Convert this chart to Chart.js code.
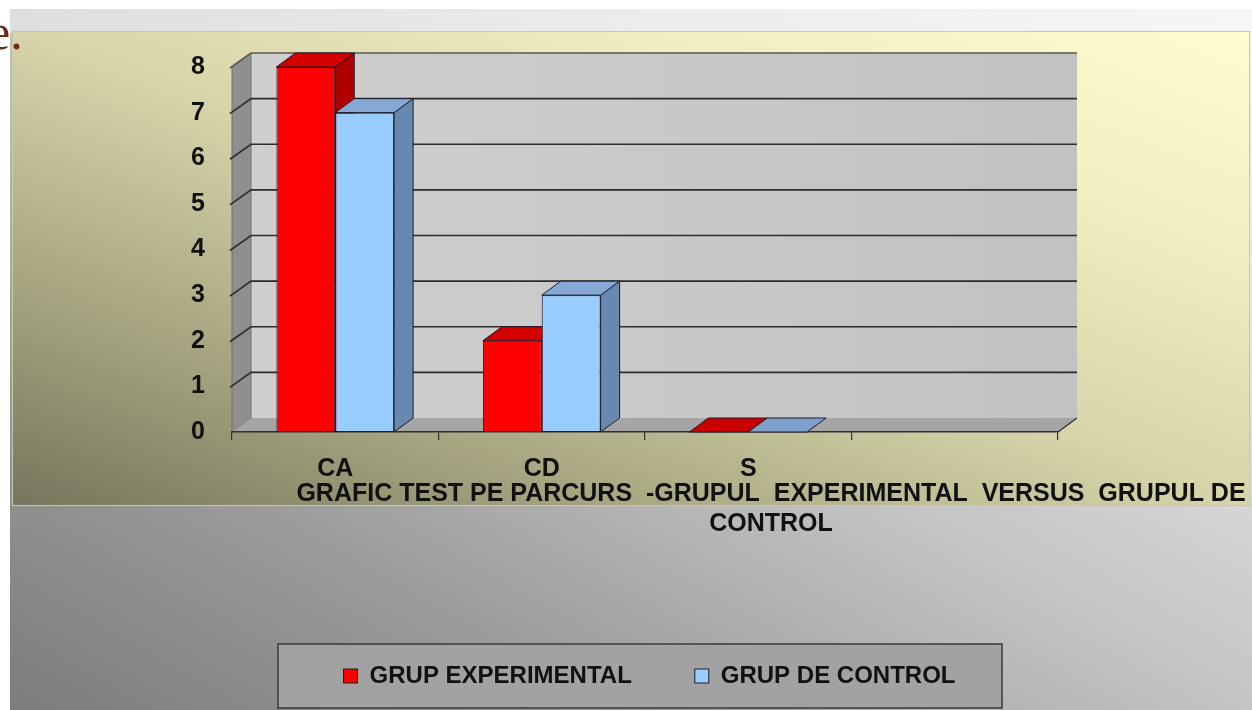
<!DOCTYPE html>
<html><head><meta charset="utf-8">
<script src="https://cdn.jsdelivr.net/npm/chart.js@4.4.1/dist/chart.umd.min.js"></script>
<style>
html,body{margin:0;padding:0;background:#fff;width:1252px;height:710px;overflow:hidden;}
#outer{position:absolute;left:10px;top:9px;width:1242px;height:701px;background:linear-gradient(to top right,#7c7c7c 0%,#9c9c9c 25%,#c4c4c4 50%,#e2e2e2 75%,#f6f6f6 100%);}
#strip{position:absolute;left:10px;top:9px;width:1242px;height:24px;background:linear-gradient(to right,#dedede 0%,#ececec 50%,#f6f6f6 100%);}
#inner{position:absolute;left:12px;top:31px;width:1236px;height:473px;border:1px solid #c9c8a8;background:linear-gradient(to top right,#76765c 0%,#a9a782 25%,#d6d4a8 50%,#f0eec0 75%,#fffcd0 100%);}
#frag{position:absolute;left:-12px;top:7px;font:50px/50px 'Liberation Serif','DejaVu Serif',serif;color:#6e2a18;}
canvas{position:absolute;left:0;top:0;}
</style></head>
<body>
<div id="outer"></div><div id="strip"></div><div id="inner"></div>
<div id="frag">e.</div>
<canvas id="c" width="1252" height="710"></canvas>
<script>
const categories = ['CA', 'CD', 'S', ''];
const grupExperimental = [8, 2, 0, null];
const grupControl = [7, 3, 0, null];
const seriesNames = ['GRUP EXPERIMENTAL', 'GRUP DE CONTROL'];
const yMin = 0, yMax = 8, yStep = 1;
const axisTitle = ['GRAFIC TEST PE PARCURS  -GRUPUL  EXPERIMENTAL  VERSUS  GRUPUL DE', 'CONTROL'];

const FONT = "'Liberation Sans',Arial,sans-serif";
const DEPTH = {dx: 19, dy: -14};
const faces = [
  {front: '#ff0000', top: '#d40000', side: '#b00000', flat: '#c80000'},
  {front: '#99ccff', top: '#86a8d4', side: '#6888b0', flat: '#7fa0cc'}
];
const EDGE = '#1c1c28';

function poly(ctx, pts, fill, stroke, lw) {
  ctx.beginPath();
  ctx.moveTo(pts[0][0], pts[0][1]);
  for (let i = 1; i < pts.length; i++) ctx.lineTo(pts[i][0], pts[i][1]);
  ctx.closePath();
  if (fill) { ctx.fillStyle = fill; ctx.fill(); }
  if (stroke) { ctx.strokeStyle = stroke; ctx.lineWidth = lw || 1; ctx.stroke(); }
}

const scene3d = {
  id: 'scene3d',
  beforeDraw(chart) {
    const {ctx, chartArea: a, scales: {y}} = chart;
    const {dx, dy} = DEPTH;
    const top = y.getPixelForValue(yMax), bot = y.getPixelForValue(yMin);
    ctx.save();
    // legend frame
    const hb = chart.legend && chart.legend.legendHitBoxes;
    if (hb && hb.length) {
      const l = hb[0].left, r = hb[hb.length - 1].left + hb[hb.length - 1].width;
      const cx = (l + r) / 2 - 9.5, cy = hb[0].top + hb[0].height / 2;
      ctx.fillStyle = '#a2a2a2';
      ctx.fillRect(cx - 362, cy - 32, 724, 64);
      ctx.strokeStyle = '#3a3a3a'; ctx.lineWidth = 1.5;
      ctx.strokeRect(cx - 362, cy - 32, 724, 64);
    }
    // back wall
    const g = ctx.createLinearGradient(a.left + dx, 0, a.right + dx, 0);
    g.addColorStop(0, '#cfcfcf'); g.addColorStop(1, '#c2c2c2');
    ctx.fillStyle = g;
    ctx.fillRect(a.left + dx, top + dy, a.right - a.left, bot - top);
    // left wall
    poly(ctx, [[a.left, top], [a.left + dx, top + dy], [a.left + dx, bot + dy], [a.left, bot]], '#8f8f8f', '#707070', 1);
    // floor
    poly(ctx, [[a.left, bot], [a.right, bot], [a.right + dx, bot + dy], [a.left + dx, bot + dy]], '#a5a5a5');
    ctx.strokeStyle = '#303030'; ctx.lineWidth = 1.3;
    ctx.beginPath(); ctx.moveTo(a.right, bot); ctx.lineTo(a.right + dx, bot + dy); ctx.stroke();
    // gridlines on walls
    y.ticks.forEach(t => {
      if (t.value === yMin) return;
      const py = y.getPixelForValue(t.value);
      ctx.beginPath();
      ctx.moveTo(a.left - 2, py + 1);
      ctx.lineTo(a.left + dx, py + dy);
      ctx.lineTo(a.right + dx, py + dy);
      ctx.strokeStyle = t.value === yMax ? '#5a5a50' : '#2c2c2c';
      ctx.lineWidth = 1.6;
      ctx.stroke();
    });
    ctx.restore();
  },
  beforeDatasetsDraw(chart) {
    const {ctx} = chart;
    const {dx, dy} = DEPTH;
    ctx.save();
    ctx.lineJoin = 'round';
    categories.forEach((c, idx) => {
      chart.data.datasets.forEach((ds, di) => {
        const v = ds.data[idx];
        if (v === null || v === undefined) return;
        const el = chart.getDatasetMeta(di).data[idx];
        const {x, y, base, width} = el.getProps(['x', 'y', 'base', 'width'], true);
        const L = x - width / 2, R = x + width / 2;
        const f = faces[di];
        if (v === 0) {
          poly(ctx, [[L, base], [R, base], [R + dx, base + dy], [L + dx, base + dy]], f.flat, EDGE, 1);
        } else {
          poly(ctx, [[R, y], [R + dx, y + dy], [R + dx, base + dy], [R, base]], f.side, EDGE, 1);
          poly(ctx, [[L, y], [R, y], [R + dx, y + dy], [L + dx, y + dy]], f.top, EDGE, 1);
        }
      });
    });
    ctx.restore();
  },
  afterDraw(chart) {
    const {ctx} = chart;
    ctx.save();
    ctx.font = 'bold 25px ' + FONT;
    ctx.fillStyle = '#111';
    ctx.textAlign = 'center';
    ctx.textBaseline = 'middle';
    ctx.fillText(axisTitle[0], 771, 494);
    ctx.fillText(axisTitle[1], 771, 524);
    ctx.restore();
  }
};

new Chart(document.getElementById('c'), {
  type: 'bar',
  data: {
    labels: categories,
    datasets: [
      {label: seriesNames[0], data: grupExperimental, backgroundColor: faces[0].front, borderColor: EDGE, borderWidth: 1, borderSkipped: false},
      {label: seriesNames[1], data: grupControl, backgroundColor: faces[1].front, borderColor: EDGE, borderWidth: 1, borderSkipped: false}
    ]
  },
  options: {
    responsive: false,
    animation: false,
    devicePixelRatio: 1,
    categoryPercentage: 0.57,
    barPercentage: 1,
    layout: {padding: {left: 47, right: 0, top: 67, bottom: 12}},
    plugins: {
      legend: {
        position: 'bottom',
        align: 'center',
        labels: {boxWidth: 14, boxHeight: 14, padding: 63, color: '#111', font: {family: FONT, size: 24, weight: 'bold'}}
      },
      tooltip: {enabled: false},
      title: {display: false}
    },
    scales: {
      x: {
        grid: {display: true, drawOnChartArea: false, drawTicks: true, tickLength: 8, color: '#303030', lineWidth: 1.2, offset: true},
        border: {display: true, color: '#303030', width: 1.5},
        ticks: {color: '#111', font: {family: FONT, size: 25, weight: 'bold'}, padding: 14, maxRotation: 0, autoSkip: false},
        afterFit: s => { s.height = 169; }
      },
      y: {
        min: yMin, max: yMax,
        grid: {display: false},
        border: {display: false},
        ticks: {stepSize: yStep, color: '#111', font: {family: FONT, size: 25, weight: 'bold'}, padding: 19},
        afterFit: s => { s.width = 185; }
      },
      y2: {
        type: 'linear', position: 'right', display: true,
        grid: {display: false}, border: {display: false}, ticks: {display: false},
        afterFit: s => { s.width = 194; }
      }
    }
  },
  plugins: [scene3d]
});
</script>
</body></html>
